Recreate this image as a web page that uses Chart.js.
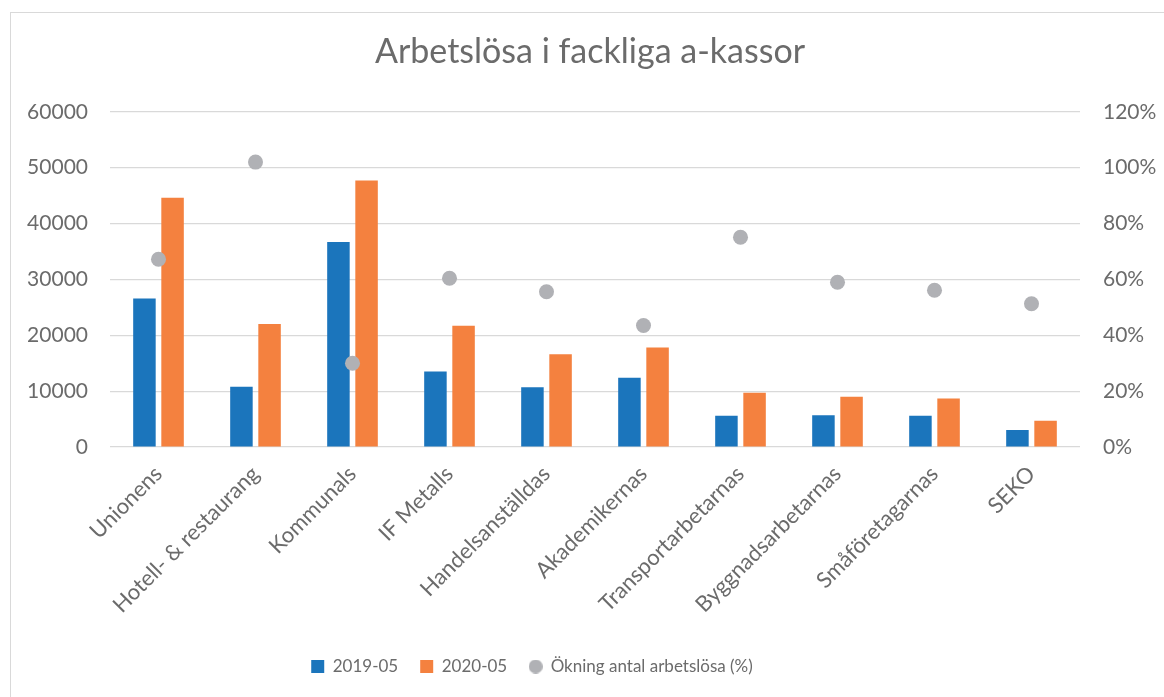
<!DOCTYPE html>
<html>
<head>
<meta charset="utf-8">
<script src="https://cdn.jsdelivr.net/npm/chart.js@4"></script>
<style>
  html, body { margin: 0; padding: 0; background: #fff; overflow: hidden; }
  #frame { position: absolute; left: 10px; top: 12px; width: 1300px; height: 900px; border: 1px solid #d9d9d9; }
  #wrap { position: absolute; left: 0; top: 0; width: 1164px; height: 697px; }
</style>
</head>
<body>
<div id="frame"></div>
<div id="wrap"><canvas id="fackChart"></canvas></div>
<script>
const kassor = ['Unionens', 'Hotell- & restaurang', 'Kommunals', 'IF Metalls', 'Handelsanställdas',
    'Akademikernas', 'Transportarbetarnas', 'Byggnadsarbetarnas', 'Småföretagarnas', 'SEKO'];
const arbetslosa2019 = [26600, 10800, 36700, 13500, 10700, 12400, 5600, 5700, 5600, 3050];
const arbetslosa2020 = [44600, 22000, 47700, 21700, 16600, 17800, 9700, 9000, 8700, 4700];
const okningProcent = [67.2, 102.0, 30.0, 60.4, 55.6, 43.5, 75.1, 59.0, 56.1, 51.3];
const leftTicks = [0, 10000, 20000, 30000, 40000, 50000, 60000];
const rightTicks = [0, 20, 40, 60, 80, 100, 120];

const textColor = '#6b6b6b';
const gridColor = '#d9d9d9';
const dotColor = '#b0b1b5';
const fontName = 'Lato';

// small round marker for the legend, same size as the squares
function legendDot(size) {
    const c = document.createElement('canvas');
    c.width = size;
    c.height = size;
    const g = c.getContext('2d');
    g.fillStyle = dotColor;
    g.beginPath();
    g.arc(size / 2, size / 2, size / 2, 0, Math.PI * 2);
    g.fill();
    return c;
}
const dotImage = legendDot(14);

// the legend sits a bit left of centre in the original
const legendShift = {
    id: 'legendShift',
    afterLayout(chart) {
        chart.legend.left -= 58;
        chart.legend.right -= 58;
    }
};

const ctx = document.getElementById('fackChart');

new Chart(ctx, {
    type: 'bar',
    data: {
        labels: kassor,
        datasets: [
            {
                label: '2019-05',
                data: arbetslosa2019,
                backgroundColor: '#1b75bc',
                pointStyle: 'rect',
                yAxisID: 'y',
                categoryPercentage: 0.58,
                barPercentage: 0.8
            },
            {
                label: '2020-05',
                data: arbetslosa2020,
                backgroundColor: '#f4813f',
                pointStyle: 'rect',
                yAxisID: 'y',
                categoryPercentage: 0.58,
                barPercentage: 0.8
            },
            {
                type: 'line',
                label: 'Ökning antal arbetslösa (%)',
                data: okningProcent,
                showLine: false,
                pointStyle: 'circle',
                pointRadius: 7.5,
                pointHoverRadius: 7.5,
                backgroundColor: dotColor,
                borderColor: dotColor,
                borderWidth: 0,
                yAxisID: 'y1',
                order: -1
            }
        ]
    },
    plugins: [legendShift],
    options: {
        responsive: true,
        maintainAspectRatio: false,
        animation: false,
        layout: { padding: { left: 18, right: 2, top: 32, bottom: 12 } },
        plugins: {
            title: {
                display: true,
                text: 'Arbetslösa i fackliga a-kassor',
                color: textColor,
                font: { family: fontName, size: 34, weight: 'normal' },
                padding: { top: 0, bottom: 39 }
            },
            legend: {
                position: 'bottom',
                labels: {
                    color: textColor,
                    font: { family: fontName, size: 17 },
                    usePointStyle: true,
                    boxWidth: 13,
                    boxHeight: 13,
                    padding: 22,
                    sort: (a, b) => a.datasetIndex - b.datasetIndex,
                    generateLabels: (chart) => {
                        const items = Chart.defaults.plugins.legend.labels.generateLabels(chart);
                        items.forEach(it => {
                            if (it.datasetIndex === 2) it.pointStyle = dotImage;
                        });
                        return items;
                    }
                }
            },
            tooltip: { enabled: false }
        },
        scales: {
            x: {
                grid: { display: false, drawTicks: false },
                border: { display: false },
                afterFit: (scale) => { scale.height = 189; },
                ticks: {
                    color: textColor,
                    font: { family: fontName, size: 22 },
                    maxRotation: 45,
                    minRotation: 45,
                    autoSkip: false,
                    padding: 14
                }
            },
            y: {
                position: 'left',
                min: 0,
                max: 60000,
                afterFit: (scale) => { scale.width = 92; },
                afterBuildTicks: (scale) => { scale.ticks = leftTicks.map(v => ({ value: v })); },
                grid: { color: gridColor, lineWidth: 1.2, drawTicks: false },
                border: { display: false },
                ticks: {
                    color: textColor,
                    font: { family: fontName, size: 21 },
                    padding: 22,
                    callback: (v) => String(v)
                }
            },
            y1: {
                position: 'right',
                min: 0,
                max: 120,
                afterFit: (scale) => { scale.width = 82; },
                afterBuildTicks: (scale) => { scale.ticks = rightTicks.map(v => ({ value: v })); },
                grid: { display: false, drawTicks: false },
                border: { display: false },
                ticks: {
                    color: textColor,
                    font: { family: fontName, size: 21 },
                    padding: 23,
                    callback: (v) => v + '%'
                }
            }
        }
    }
});
</script>
</body>
</html>
